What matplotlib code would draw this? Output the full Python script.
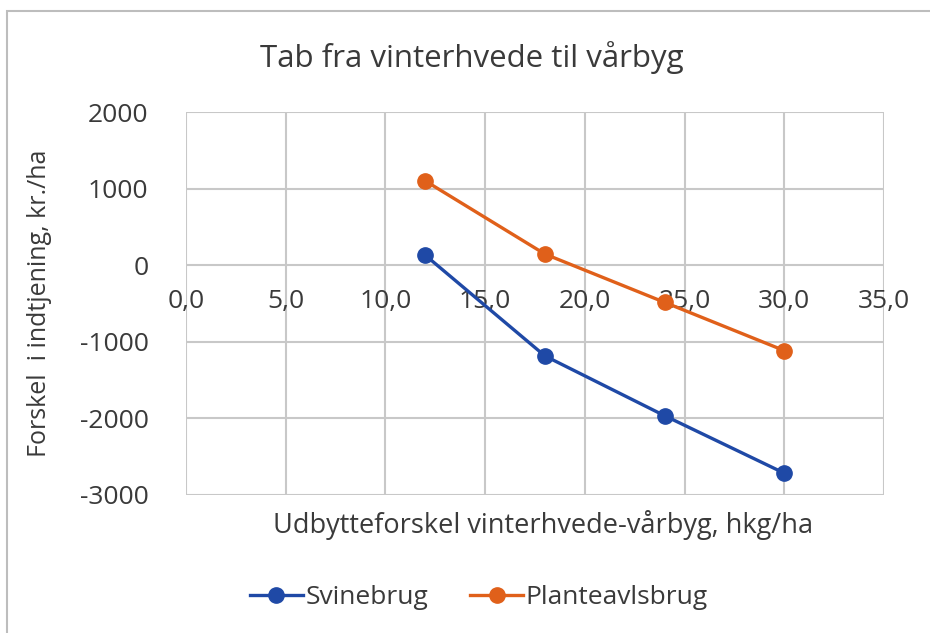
import matplotlib.pyplot as plt
from matplotlib.patches import Rectangle

# Data
x_vals = [12, 18, 24, 30]
svinebrug = [130, -1185, -1965, -2715]
planteavl = [1100, 145, -485, -1115]
x_ticks = [0, 5, 10, 15, 20, 25, 30, 35]
y_ticks = [2000, 1000, 0, -1000, -2000, -3000]

plt.rcParams['font.family'] = ['Open Sans', 'DejaVu Sans']
text_col = "#3a3a3a"
grid_col = "#c8c8c8"

fig = plt.figure(figsize=(9.3, 6.33), dpi=100)
W, H = 930, 633

# outer chart border (only left/top visible)
fig.patches.append(Rectangle((7 / W, -0.1), 1.2, 1 - 11 / H + 0.1, transform=fig.transFigure,
                             fill=False, edgecolor="#bdbdbd", linewidth=1.5))

ax = fig.add_axes([186 / W, 1 - 495 / H, (884 - 186) / W, (495 - 112) / H])
ax.set_xlim(0, 35)
ax.set_ylim(-3000, 2000)
ax.set_xticks(x_ticks)
ax.set_yticks(y_ticks)
ax.grid(True, color=grid_col, linewidth=1.5)
for s in ax.spines.values():
    s.set_visible(False)
ax.tick_params(length=0, labelsize=19, colors=text_col)
ax.set_xticklabels([])
ax.set_yticklabels([str(v) for v in y_ticks])
ax.tick_params(axis="y", pad=27)

# x tick labels sit just under the zero line
for t in x_ticks:
    ax.text(t, -470, f"{t:.1f}".replace(".", ","), ha="center", va="center",
            fontsize=19, color=text_col)

ax.plot(x_vals, svinebrug, color="#1f49a6", linewidth=2.4, marker="o", markersize=11,
        label="Svinebrug", zorder=3)
ax.plot(x_vals, planteavl, color="#e0601a", linewidth=2.4, marker="o", markersize=11,
        label="Planteavlsbrug", zorder=3)

fig.text(472 / W, 1 - 58 / H, "Tab fra vinterhvede til vårbyg", ha="center", va="center",
         fontsize=22.5, color=text_col)
fig.text(40 / W, 1 - 303 / H, "Forskel  i indtjening, kr./ha", ha="center", va="center",
         rotation=90, fontsize=18, color=text_col)
fig.text(543 / W, 1 - 525 / H, "Udbytteforskel vinterhvede-vårbyg, hkg/ha", ha="center",
         va="center", fontsize=19.5, color=text_col)

fig.legend(loc="center", bbox_to_anchor=(479 / W, 1 - 598 / H), ncol=2, frameon=False,
           fontsize=19, labelcolor=text_col, handlelength=2.0, columnspacing=1.6,
           handletextpad=0.1)

fig.savefig("out.png", dpi=100)
